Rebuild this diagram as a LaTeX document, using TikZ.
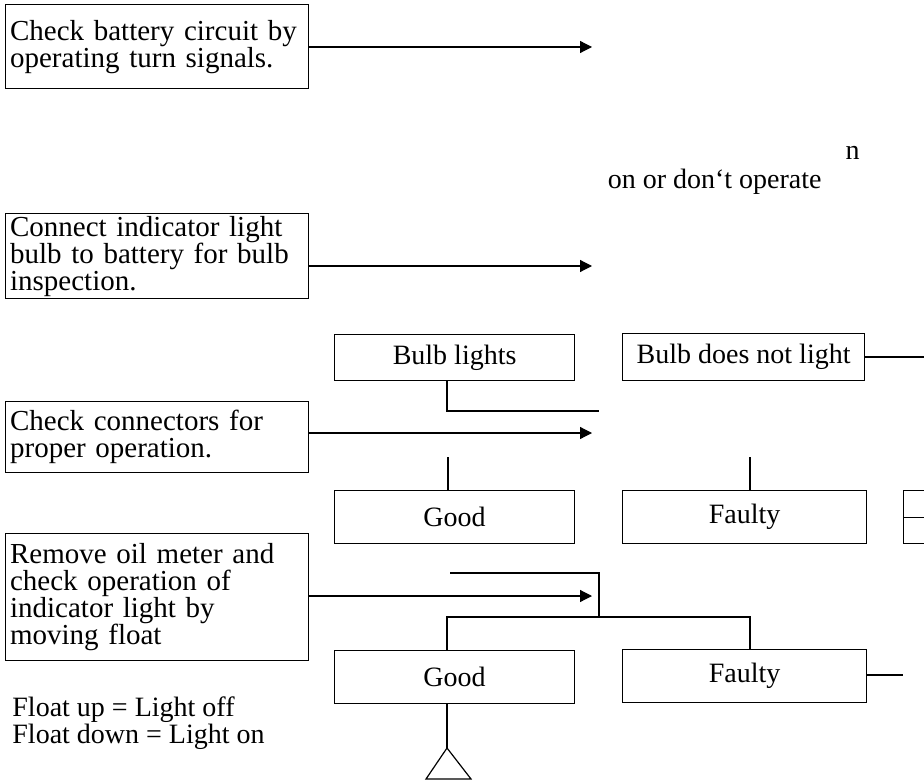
\documentclass[tikz,border=0pt]{standalone}
\usepackage{fontspec}
\setmainfont{Liberation Serif}
\usetikzlibrary{arrows.meta}

\begin{document}
\begin{tikzpicture}[
    x=0.5pt, y=-0.5pt,
    every node/.style={font=\fontsize{14}{13.5}\selectfont},
    task/.style={draw, line width=0.6pt, anchor=north west, minimum width=151.5pt, text width=147pt, align=left, inner xsep=2.25pt, inner ysep=0pt, font=\fontsize{14.5}{13.5}\selectfont},
    res/.style={draw, line width=0.6pt, anchor=north west, minimum height=26.5pt, inner sep=0pt},
    link/.style={line width=0.6pt},
    go/.style={line width=0.6pt, -{Triangle[length=6pt,width=6pt]}}
  ]
  \useasboundingbox (0,0) rectangle (924,780);

  \node[task, minimum height=42pt] (t1) at (5,4) {Check battery circuit by\\operating turn signals.};
  \node[task, minimum height=42.5pt] (t2) at (5,213) {Connect indicator light\\bulb to battery for bulb\\inspection.};
  \node[task, minimum height=35.5pt] (t3) at (5,401) {Check connectors for\\proper operation.};
  \node[task, minimum height=63.5pt] (t4) at (5,533) {Remove oil meter and\\check operation of\\indicator light by\\moving float};

  \node[anchor=base east, inner sep=0pt] (nt) at (860,160) {n};
  \node[anchor=base east, inner sep=0pt] (op) at (822,189) {on or don‘t operate};

  \node[res, minimum width=120pt, minimum height=23pt] (bulbok) at (334,334) {Bulb lights};
  \node[res, minimum width=121pt, minimum height=23.5pt] (bulbno) at (622,333) {Bulb does not light};
  \node[res, minimum width=120pt] (good1) at (334,490) {Good};
  \node[res, minimum width=122pt] (bad1) at (622,490) {Faulty};
  \node[res, minimum width=20pt] (side) at (903,490) {};
  \node[res, minimum width=120pt] (good2) at (334,650) {Good};
  \node[res, minimum width=122pt] (bad2) at (622,649) {Faulty};

  \node[anchor=base west, inner sep=0pt] (fl1) at (12,716) {Float up = Light off};
  \node[anchor=base west, inner sep=0pt] (fl2) at (12,743) {Float down = Light on};

  \coordinate (e1) at (592,47);
  \coordinate (e2) at (592,266);
  \coordinate (e3) at (592,433);
  \coordinate (e4) at (592,596);
  \draw[go] (t1.east |- e1) -- (e1);
  \draw[go] (t2.east |- e2) -- (e2);
  \draw[go] (t3.east |- e3) -- (e3);
  \draw[go] (t4.east |- e4) -- (e4);

  \coordinate (k1) at (447,411);
  \coordinate (j1) at (599,411);
  \draw[link] (bulbok.south -| k1) -- (k1) -- (j1);
  \coordinate (r1) at (924,357);
  \draw[link] (bulbno.east |- r1) -- (r1);

  \coordinate (s1) at (448,457);
  \coordinate (s2) at (750,457);
  \draw[link] (s1) -- (s1 |- good1.north);
  \draw[link] (s2) -- (s2 |- bad1.north);
  \draw[link] (side.west) -- (side.east);

  \coordinate (m0) at (450,573);
  \coordinate (m1) at (599,573);
  \coordinate (m2) at (599,617);
  \draw[link] (m0) -- (m1) -- (m2);
  \coordinate (h1) at (447,617);
  \coordinate (h2) at (750,617);
  \draw[link] (good2.north -| h1) -- (h1) -- (h2) -- (h2 |- bad2.north);
  \coordinate (r2) at (903,675);
  \draw[link] (bad2.east |- r2) -- (r2);

  \coordinate (apex) at (447,748);
  \draw[link] (good2.south -| apex) -- (apex);
  \draw[link] (apex) -- (426,779) -- (471,779) -- cycle;
\end{tikzpicture}
\end{document}
